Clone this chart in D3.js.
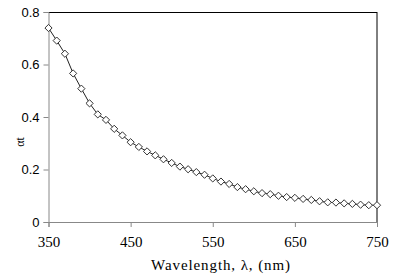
<!DOCTYPE html>
<html lang="en">
<head>
    <meta charset="UTF-8">
    <title>Absorption vs wavelength</title>
    <script src="https://d3js.org/d3.v7.min.js"></script>
    <style>
        body { margin: 0; background: #fff; }
    </style>
</head>
<body>
    <div id="chart"></div>
    <script>
        // wavelength (nm) and alpha*t
        const wavelengths = [350, 360, 370, 380, 390, 400, 410, 420, 430, 440,
            450, 460, 470, 480, 490, 500, 510, 520, 530, 540,
            550, 560, 570, 580, 590, 600, 610, 620, 630, 640,
            650, 660, 670, 680, 690, 700, 710, 720, 730, 740, 750];
        const alphaT = [0.739, 0.691, 0.641, 0.566, 0.508, 0.452, 0.410, 0.389, 0.355, 0.330,
            0.304, 0.286, 0.269, 0.254, 0.239, 0.225, 0.211, 0.201, 0.190, 0.180,
            0.166, 0.154, 0.145, 0.133, 0.125, 0.117, 0.110, 0.106, 0.100, 0.095,
            0.092, 0.088, 0.084, 0.079, 0.075, 0.074, 0.071, 0.069, 0.066, 0.064, 0.064];
        const xTicks = [350, 450, 550, 650, 750];
        const yTicks = [0, 0.2, 0.4, 0.6, 0.8];

        const data = wavelengths.map(function (w, i) { return { w: w, v: alphaT[i] }; });

        const W = 400, H = 280;
        const margin = { top: 12, right: 23, bottom: 58, left: 48.5 };
        const width = W - margin.left - margin.right,
            height = H - margin.top - margin.bottom;

        const svg = d3.select("#chart")
            .append("svg")
            .attr("width", W)
            .attr("height", H);

        const g = svg.append("g")
            .attr("transform", "translate(" + margin.left + "," + margin.top + ")");

        const x = d3.scaleLinear().domain([350, 750]).range([0, width]);
        const y = d3.scaleLinear().domain([0, 0.8]).range([height, 0]);

        // frame: top and right in black
        g.append("line")
            .attr("x1", 0).attr("x2", width)
            .attr("y1", 0.5).attr("y2", 0.5)
            .attr("stroke", "#000");
        g.append("line")
            .attr("x1", width).attr("x2", width)
            .attr("y1", 0).attr("y2", height)
            .attr("stroke", "#000");

        // y axis
        const yAxis = g.append("g")
            .call(d3.axisLeft(y).tickValues(yTicks).tickSize(5).tickPadding(4)
                .tickFormat(function (d) { return d === 0 ? "0" : d3.format(".1f")(d); }));
        yAxis.select(".domain").attr("stroke", "#888");
        yAxis.selectAll(".tick line").attr("stroke", "#888");
        yAxis.selectAll("text")
            .attr("font-family", "'Liberation Sans', Arial, sans-serif")
            .attr("font-size", 13)
            .attr("fill", "#000");

        // x axis
        const xAxis = g.append("g")
            .attr("transform", "translate(0," + height + ")")
            .call(d3.axisBottom(x).tickValues(xTicks).tickSize(5).tickPadding(9));
        xAxis.select(".domain").attr("stroke", "#888");
        xAxis.selectAll(".tick line").attr("stroke", "#888");
        xAxis.selectAll("text")
            .attr("font-family", "'Liberation Serif', 'Times New Roman', serif")
            .attr("font-size", 15)
            .attr("fill", "#000");

        // line
        const line = d3.line()
            .x(function (d) { return x(d.w); })
            .y(function (d) { return y(d.v); });

        g.append("path")
            .datum(data)
            .attr("fill", "none")
            .attr("stroke", "#222")
            .attr("stroke-width", 1)
            .attr("d", line);

        // diamond markers
        const s = 3.6;
        g.selectAll(".marker")
            .data(data)
            .enter()
            .append("path")
            .attr("class", "marker")
            .attr("transform", function (d) { return "translate(" + x(d.w) + "," + y(d.v) + ")"; })
            .attr("d", "M0," + (-s) + "L" + s + ",0L0," + s + "L" + (-s) + ",0Z")
            .attr("fill", "#fff")
            .attr("stroke", "#333")
            .attr("stroke-width", 1);

        // axis titles
        svg.append("text")
            .attr("x", 221)
            .attr("y", 270)
            .attr("text-anchor", "middle")
            .attr("font-family", "'Liberation Serif', 'Times New Roman', serif")
            .attr("font-size", 15)
            .attr("letter-spacing", 0.9)
            .text("Wavelength, \u03bb, (nm)");

        svg.append("text")
            .attr("transform", "translate(24,142) rotate(-90)")
            .attr("text-anchor", "middle")
            .attr("font-family", "'Liberation Serif', 'Times New Roman', serif")
            .attr("font-size", 12)
            .text("\u03b1t");
    </script>
</body>
</html>
